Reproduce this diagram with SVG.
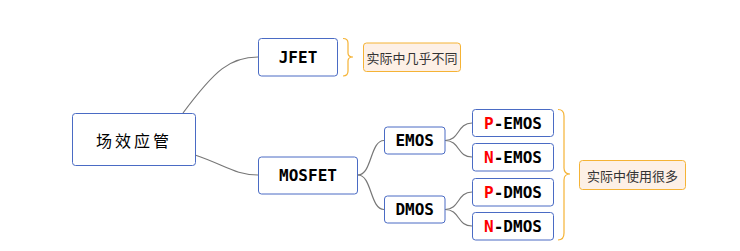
<svg xmlns="http://www.w3.org/2000/svg" width="740" height="251" viewBox="0 0 740 251">
<style>
.node rect{fill:#fff;stroke:#4a6bc4;stroke-width:1}
.t{font-family:"DejaVu Sans Mono","Liberation Mono",monospace;font-size:16px;font-weight:bold;fill:#000;text-anchor:middle;dominant-baseline:central}
.r{fill:#f00}
.c path{fill:none;stroke:#777;stroke-width:1.2}
.br{fill:none;stroke:#f5b335;stroke-width:1.2}
.call rect{fill:#fdf0e6;stroke:#f5b335;stroke-width:1}
.ct{font-family:"Noto Sans CJK SC","Noto Sans",sans-serif;font-size:13px;fill:#333;text-anchor:middle;dominant-baseline:central}
</style>
<rect width="740" height="251" fill="#fff"/>
<g class="c" id="connectors">
<path d="M183,113 C215,70 230,57 258,57"/>
<path d="M195,155 C225,165 235,175 258,175"/>
<path d="M358,175 C372,175 370,140.5 384,140.5"/>
<path d="M358,175 C372,175 370,209.5 384,209.5"/>
<path d="M445,140.5 C460,140.5 457,123 472,123"/>
<path d="M445,140.5 C460,140.5 457,157 472,157"/>
<path d="M445,209.5 C460,209.5 457,192 472,192"/>
<path d="M445,209.5 C460,209.5 457,226 472,226"/>
</g>
<g id="root" class="node"><rect x="72.5" y="113.5" width="123" height="52" rx="3"/><text x="134" y="139.5" class="ct" style="font-size:16px;fill:#000;letter-spacing:3px">场效应管</text></g>
<g id="jfet" class="node"><rect x="258.5" y="38.5" width="79" height="37.5" rx="3"/><text x="298" y="57.5" class="t">JFET</text></g>
<g id="mosfet" class="node"><rect x="258.5" y="157" width="99" height="37" rx="3"/><text x="308" y="175.5" class="t">MOSFET</text></g>
<g id="emos" class="node"><rect x="384.5" y="127" width="60.5" height="27" rx="3"/><text x="414.7" y="140.5" class="t">EMOS</text></g>
<g id="dmos" class="node"><rect x="384.5" y="196" width="60.5" height="27" rx="3"/><text x="414.7" y="209.5" class="t">DMOS</text></g>
<g id="pemos" class="node"><rect x="472.5" y="109.5" width="81" height="27" rx="3"/><text x="513" y="123" class="t"><tspan class="r">P</tspan>-EMOS</text></g>
<g id="nemos" class="node"><rect x="472.5" y="143.5" width="81" height="27.5" rx="3"/><text x="513" y="157.2" class="t"><tspan class="r">N</tspan>-EMOS</text></g>
<g id="pdmos" class="node"><rect x="472.5" y="178.5" width="81" height="27.5" rx="3"/><text x="513" y="192.2" class="t"><tspan class="r">P</tspan>-DMOS</text></g>
<g id="ndmos" class="node"><rect x="472.5" y="212.5" width="81" height="27.5" rx="3"/><text x="513" y="226.2" class="t"><tspan class="r">N</tspan>-DMOS</text></g>
<g id="brace1"><path class="br" d="M343,38.5 Q348,38.5 348,43 L348,53 Q348,57 353,57 Q348,57 348,61 L348,71 Q348,76 343,76"/></g>
<g id="note1" class="call"><rect x="363.5" y="43" width="97" height="28.5" rx="3"/><text x="412" y="57.5" class="ct">实际中几乎不同</text></g>
<g id="brace2"><path class="br" d="M558,109.5 Q564,109.5 564,116 L564,168 Q564,174 570,174 Q564,174 564,180 L564,233 Q564,240 558,240"/></g>
<g id="note2" class="call"><rect x="579.5" y="160.5" width="106" height="29" rx="3"/><text x="632.5" y="175" class="ct">实际中使用很多</text></g>
</svg>
